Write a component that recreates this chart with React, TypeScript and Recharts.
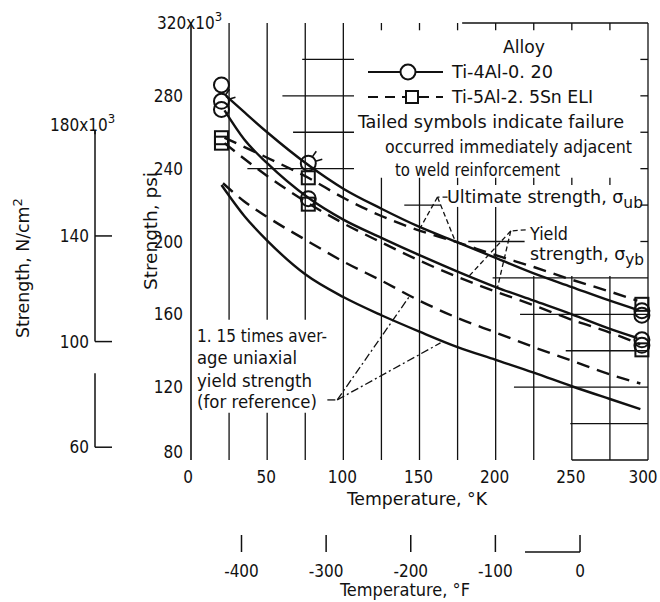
import { ComposedChart, Line, Scatter, XAxis, YAxis, ReferenceLine } from "recharts";

const FONT = "'DejaVu Sans Condensed', 'DejaVu Sans', sans-serif";
const INK = "#111";
const DASH = "13 8";

// strength in psi x 10^3 against temperature in K
const ULT_TI4AL = [
  { k: 23, v: 280 }, { k: 35, v: 271 }, { k: 50, v: 260 }, { k: 77, v: 242 },
  { k: 100, v: 229 }, { k: 125, v: 218 }, { k: 150, v: 208 }, { k: 175, v: 199.5 },
  { k: 200, v: 191 }, { k: 225, v: 182.5 }, { k: 250, v: 175 }, { k: 275, v: 167.5 },
  { k: 293, v: 162.5 },
];
const YLD_TI4AL = [
  { k: 22, v: 272 }, { k: 35, v: 256 }, { k: 50, v: 243 }, { k: 77, v: 224 },
  { k: 100, v: 212 }, { k: 125, v: 202 }, { k: 150, v: 192.5 }, { k: 175, v: 183.5 },
  { k: 200, v: 175 }, { k: 225, v: 167.5 }, { k: 250, v: 160 }, { k: 275, v: 152 },
  { k: 293, v: 147 },
];
const ULT_TI5AL = [
  { k: 22, v: 257 }, { k: 50, v: 246 }, { k: 77, v: 235 }, { k: 100, v: 224 },
  { k: 125, v: 214 }, { k: 150, v: 206 }, { k: 175, v: 199.5 }, { k: 200, v: 192.5 },
  { k: 225, v: 186 }, { k: 250, v: 179 }, { k: 275, v: 172.5 }, { k: 293, v: 167.5 },
];
const YLD_TI5AL = [
  { k: 22, v: 254 }, { k: 50, v: 236 }, { k: 77, v: 221 }, { k: 100, v: 210 },
  { k: 125, v: 199.5 }, { k: 150, v: 189.5 }, { k: 175, v: 180.5 }, { k: 200, v: 172.5 },
  { k: 225, v: 165 }, { k: 250, v: 157 }, { k: 275, v: 150 }, { k: 295, v: 143.5 },
];
// 1.15 x average uniaxial yield strength
const REF_DASHED = [
  { k: 21, v: 232 }, { k: 35, v: 222 }, { k: 50, v: 213.5 }, { k: 75, v: 201 },
  { k: 100, v: 189 }, { k: 125, v: 178.5 }, { k: 150, v: 167.5 }, { k: 175, v: 158 },
  { k: 200, v: 150 }, { k: 225, v: 142 }, { k: 250, v: 134.5 }, { k: 275, v: 127 },
  { k: 295, v: 122 },
];
const REF_SOLID = [
  { k: 20, v: 231 }, { k: 35, v: 214 }, { k: 50, v: 200.5 }, { k: 75, v: 182 },
  { k: 100, v: 169.5 }, { k: 125, v: 159.5 }, { k: 150, v: 150.5 }, { k: 175, v: 142 },
  { k: 200, v: 135 }, { k: 225, v: 128 }, { k: 250, v: 120.5 }, { k: 275, v: 113.5 },
  { k: 295, v: 108 },
];

const TI4AL_POINTS = [
  { k: 20, v: 286 }, { k: 20, v: 277, tailed: true }, { k: 20, v: 272.5 },
  { k: 77, v: 243, tailed: true }, { k: 77, v: 223.5 },
  { k: 296, v: 162 }, { k: 296, v: 159.5 }, { k: 296, v: 146 }, { k: 296, v: 143 },
];
const TI5AL_POINTS = [
  { k: 20, v: 257 }, { k: 20, v: 254 }, { k: 77, v: 235 }, { k: 77, v: 220.5 },
  { k: 296, v: 165.5 }, { k: 296, v: 140.5 },
];

const K_TICKS = [0, 50, 100, 150, 200, 250, 300];
const PSI_TICKS = [80, 120, 160, 200, 240, 280, 320];
const SI_TICKS = [60, 100, 140, 180];
const F_TICKS = [-400, -300, -200, -100, 0];

const PSI_TO_SI = 0.6894757;
const SI_DOMAIN = [80 * PSI_TO_SI, 320 * PSI_TO_SI];
const kFromF = (f: number) => (f + 459.67) / 1.8;
const fFromK = (k: number) => Math.round(k * 1.8 - 459.67);
// the °F scale rides on the K axis, one tick per °F value
const ALL_X_TICKS = [...K_TICKS, ...F_TICKS.map(kFromF)];

// the scanned grid is broken up by the labels, so draw it in pieces
// [k, v from, v to]
const V_GRID: [number, number, number][] = [
  [25, 80, 106], [25, 157, 320], [50, 80, 106], [50, 157, 320],
  [75, 80, 106], [75, 157, 320], [100, 80, 320],
  [125, 80, 235], [150, 80, 235], [175, 80, 219], [200, 80, 219],
  [225, 80, 181], [250, 80, 181], [275, 80, 181],
  [175, 231, 235], [200, 231, 235], [225, 231, 235], [250, 231, 235], [275, 231, 235],
  [125, 316, 320], [150, 316, 320], [175, 316, 320], [200, 316, 320],
  [225, 316, 320], [250, 316, 320], [275, 316, 320],
  [300, 80, 320],
];
// [v, k from, k to]
const H_GRID: [number, number, number][] = [
  [320, 178, 300],
  [300, 73, 107], [280, 60, 107], [260, 67, 107], [240, 37, 107],
  [220, 140, 164], [200, 182, 219], [180, 198, 300], [160, 216, 300],
  [140, 246, 300], [120, 212, 300], [100, 249, 300], [80, 250, 300],
  [300, 295, 300], [280, 295, 300], [260, 295, 300], [240, 295, 300],
  [220, 295, 300], [200, 295, 300],
];

// leader lines from the notes to the curves
const LEADERS = [
  { pts: [[168.4, 224.4], [161.8, 224.4], [150.7, 207.7]], dash: "5 3" },
  { pts: [[161.8, 224.4], [173.7, 199.7]], dash: "5 3" },
  { pts: [[219.7, 206.4], [209.9, 205.8], [182, 180.5]], dash: "5 3" },
  { pts: [[209.9, 205.8], [201, 174]], dash: "5 3" },
  { pts: [[89.5, 113], [96, 113], [144, 170.6]], dash: "8 3 2 3" },
  { pts: [[96, 113], [163.8, 144.3]], dash: "8 3 2 3" },
];

const PLOT_H = 437;
const SI_STEP_PX = (40 * PLOT_H) / (SI_DOMAIN[1] - SI_DOMAIN[0]);

function CircleMark(p: any) {
  const { cx, cy, payload } = p;
  const r = 7.5;
  return (
    <g>
      <circle cx={cx} cy={cy} r={r} fill="none" stroke={INK} strokeWidth={2} />
      {payload.tailed && (
        <g stroke={INK} strokeWidth={1.6}>
          <line x1={cx + 4} y1={cy - 6.3} x2={cx + 8} y2={cy - 12} />
          <line x1={cx + 7.2} y1={cy - 2} x2={cx + 14} y2={cy - 4} />
        </g>
      )}
    </g>
  );
}

function SquareMark(p: any) {
  const { cx, cy } = p;
  return <rect x={cx - 6.5} y={cy - 6.5} width={13} height={13} fill="none" stroke={INK} strokeWidth={2} />;
}

function PsiTick(p: any) {
  const { x, y, payload } = p;
  if (payload.value === 320) {
    return (
      <text x={x - 34} y={y + 6} fontFamily={FONT} fontSize={17} fill={INK}>
        320x10<tspan dy={-8} fontSize={13}>3</tspan>
      </text>
    );
  }
  const dy = payload.value === 80 ? -8 : 0;
  return (
    <text x={x - 8} y={y + 6 + dy} textAnchor="end" fontFamily={FONT} fontSize={17} fill={INK}>
      {payload.value}
    </text>
  );
}

function SiTick(p: any) {
  const { x, y, payload } = p;
  const ax = x - 17;
  if (payload.value === 180) {
    return (
      <g>
        <line x1={ax} y1={y} x2={ax} y2={y + 4} stroke={INK} strokeWidth={1.5} />
        <text x={ax - 45} y={y + 1} fontFamily={FONT} fontSize={17} fill={INK}>
          180x10<tspan dy={-8} fontSize={13}>3</tspan>
        </text>
      </g>
    );
  }
  // the scan loses the lowest part of this axis above the 60 mark
  const up = payload.value === 60 ? SI_STEP_PX * 0.7 : SI_STEP_PX;
  return (
    <g stroke={INK} strokeWidth={1.5}>
      <line x1={ax} y1={y} x2={x} y2={y} />
      <line x1={ax} y1={y} x2={ax} y2={y - up} />
      <text x={ax - 6} y={y + 6} textAnchor="end" stroke="none" fontFamily={FONT} fontSize={17} fill={INK}>
        {payload.value}
      </text>
    </g>
  );
}

function XTick(p: any) {
  const { x, y, payload } = p;
  if (K_TICKS.includes(payload.value)) {
    const dx = payload.value === 0 ? -3 : payload.value === 300 ? -5 : -1;
    return (
      <text x={x + dx} y={y + 23} textAnchor="middle" fontFamily={FONT} fontSize={17} fill={INK}>
        {payload.value}
      </text>
    );
  }
  const f = fFromK(payload.value);
  return (
    <g stroke={INK} strokeWidth={1.5}>
      <line x1={x} y1={y + 75} x2={x} y2={y + 92} />
      {f === 0 && <line x1={x - 55} y1={y + 92} x2={x} y2={y + 92} />}
      <text x={x} y={y + 117} textAnchor="middle" stroke="none" fontFamily={FONT} fontSize={17} fill={INK}>
        {f}
      </text>
    </g>
  );
}

function Note({ x, y, w, children, anchor }: any) {
  return (
    <text x={x} y={y} textLength={w} lengthAdjust="spacingAndGlyphs" textAnchor={anchor}>
      {children}
    </text>
  );
}

export default function App() {
  const txt = { fontFamily: FONT, fontSize: 17, fill: INK } as const;
  return (
    <div style={{ position: "absolute", left: 0, top: 0, width: 660, height: 602, background: "#fff" }}>
      <ComposedChart width={660} height={602} margin={{ top: 23, right: 12, bottom: 0, left: 0 }}>
        <XAxis xAxisId="K" type="number" dataKey="k" domain={[0, 300]} ticks={ALL_X_TICKS} interval={0}
          height={142} axisLine={false} tickLine={false} tickSize={0} tickMargin={0} tick={XTick} />
        <YAxis yAxisId="psi" type="number" domain={[80, 320]} ticks={PSI_TICKS} width={79}
          axisLine={{ stroke: INK, strokeWidth: 1.6 }} tickLine={false} tickSize={0} tickMargin={0} tick={PsiTick} />
        <YAxis yAxisId="si" type="number" domain={SI_DOMAIN} ticks={SI_TICKS} allowDataOverflow width={112}
          axisLine={false} tickLine={false} tickSize={0} tickMargin={0} tick={SiTick} />

        {V_GRID.map(([k, a, b], i) => (
          <ReferenceLine key={"v" + i} xAxisId="K" yAxisId="psi" segment={[{ x: k, y: a }, { x: k, y: b }]}
            stroke={INK} strokeWidth={1.3} ifOverflow="visible" />
        ))}
        {H_GRID.map(([v, a, b], i) => (
          <ReferenceLine key={"h" + i} xAxisId="K" yAxisId="psi" segment={[{ x: a, y: v }, { x: b, y: v }]}
            stroke={INK} strokeWidth={1.3} ifOverflow="visible" />
        ))}
        {LEADERS.flatMap((l, i) =>
          l.pts.slice(1).map((pt, j) => (
            <ReferenceLine key={"l" + i + "-" + j} xAxisId="K" yAxisId="psi"
              segment={[{ x: l.pts[j][0], y: l.pts[j][1] }, { x: pt[0], y: pt[1] }]}
              stroke={INK} strokeWidth={1.3} strokeDasharray={l.dash} ifOverflow="visible" />
          ))
        )}

        <Line xAxisId="K" yAxisId="psi" data={ULT_TI4AL} dataKey="v" type="monotone" stroke={INK} strokeWidth={2.4} dot={false} isAnimationActive={false} />
        <Line xAxisId="K" yAxisId="psi" data={YLD_TI4AL} dataKey="v" type="monotone" stroke={INK} strokeWidth={2.4} dot={false} isAnimationActive={false} />
        <Line xAxisId="K" yAxisId="psi" data={REF_SOLID} dataKey="v" type="monotone" stroke={INK} strokeWidth={2.4} dot={false} isAnimationActive={false} />
        <Line xAxisId="K" yAxisId="psi" data={ULT_TI5AL} dataKey="v" type="monotone" stroke={INK} strokeWidth={2.4} strokeDasharray={DASH} dot={false} isAnimationActive={false} />
        <Line xAxisId="K" yAxisId="psi" data={YLD_TI5AL} dataKey="v" type="monotone" stroke={INK} strokeWidth={2.4} strokeDasharray={DASH} dot={false} isAnimationActive={false} />
        <Line xAxisId="K" yAxisId="psi" data={REF_DASHED} dataKey="v" type="monotone" stroke={INK} strokeWidth={2.4} strokeDasharray={DASH} dot={false} isAnimationActive={false} />

        <Scatter xAxisId="K" yAxisId="psi" data={TI4AL_POINTS} dataKey="v" shape={CircleMark} isAnimationActive={false} />
        <Scatter xAxisId="K" yAxisId="psi" data={TI5AL_POINTS} dataKey="v" shape={SquareMark} isAnimationActive={false} />
      </ComposedChart>

      <svg width={660} height={602} style={{ position: "absolute", left: 0, top: 0, pointerEvents: "none" }}>
        <g {...txt}>
          <Note x={503} y={53} w={42}>Alloy</Note>
          <Note x={452} y={78} w={101}>Ti-4Al-0. 20</Note>
          <Note x={452} y={103} w={141}>Ti-5Al-2. 5Sn ELI</Note>
          <Note x={358} y={128} w={266}>Tailed symbols indicate failure</Note>
          <Note x={385} y={153} w={247}>occurred immediately adjacent</Note>
          <Note x={395} y={176} w={165}>to weld reinforcement</Note>

          <Note x={447} y={203} w={196}>Ultimate strength, σ<tspan dy={5} fontSize={15}>ub</tspan></Note>
          <Note x={530} y={240} w={38}>Yield</Note>
          <Note x={530} y={260} w={114}>strength, σ<tspan dy={5} fontSize={15}>yb</tspan></Note>

          <Note x={197} y={342} w={130}>1. 15 times aver-</Note>
          <Note x={197} y={364} w={100}>age uniaxial</Note>
          <Note x={197} y={387} w={115}>yield strength</Note>
          <Note x={197} y={408} w={120}>(for reference)</Note>

          <Note x={347} y={505} w={140}>Temperature, °K</Note>
          <Note x={340} y={596} w={130}>Temperature, °F</Note>
          <g transform="translate(157 231) rotate(-90)">
            <Note x={-59} y={0} w={118}>Strength, psi</Note>
          </g>
          <g transform="translate(29 268) rotate(-90)">
            <Note x={-70} y={0} w={140}>Strength, N/cm<tspan dy={-7} fontSize={13}>2</tspan></Note>
          </g>
        </g>
        <line x1={368} y1={72} x2={443} y2={72} stroke={INK} strokeWidth={2} />
        <circle cx={408} cy={72} r={7.5} fill="#fff" stroke={INK} strokeWidth={2} />
        <line x1={368} y1={97} x2={443} y2={97} stroke={INK} strokeWidth={2} strokeDasharray="10 7" />
        <rect x={406} y={91} width={12} height={12} fill="#fff" stroke={INK} strokeWidth={2} />
      </svg>
    </div>
  );
}
